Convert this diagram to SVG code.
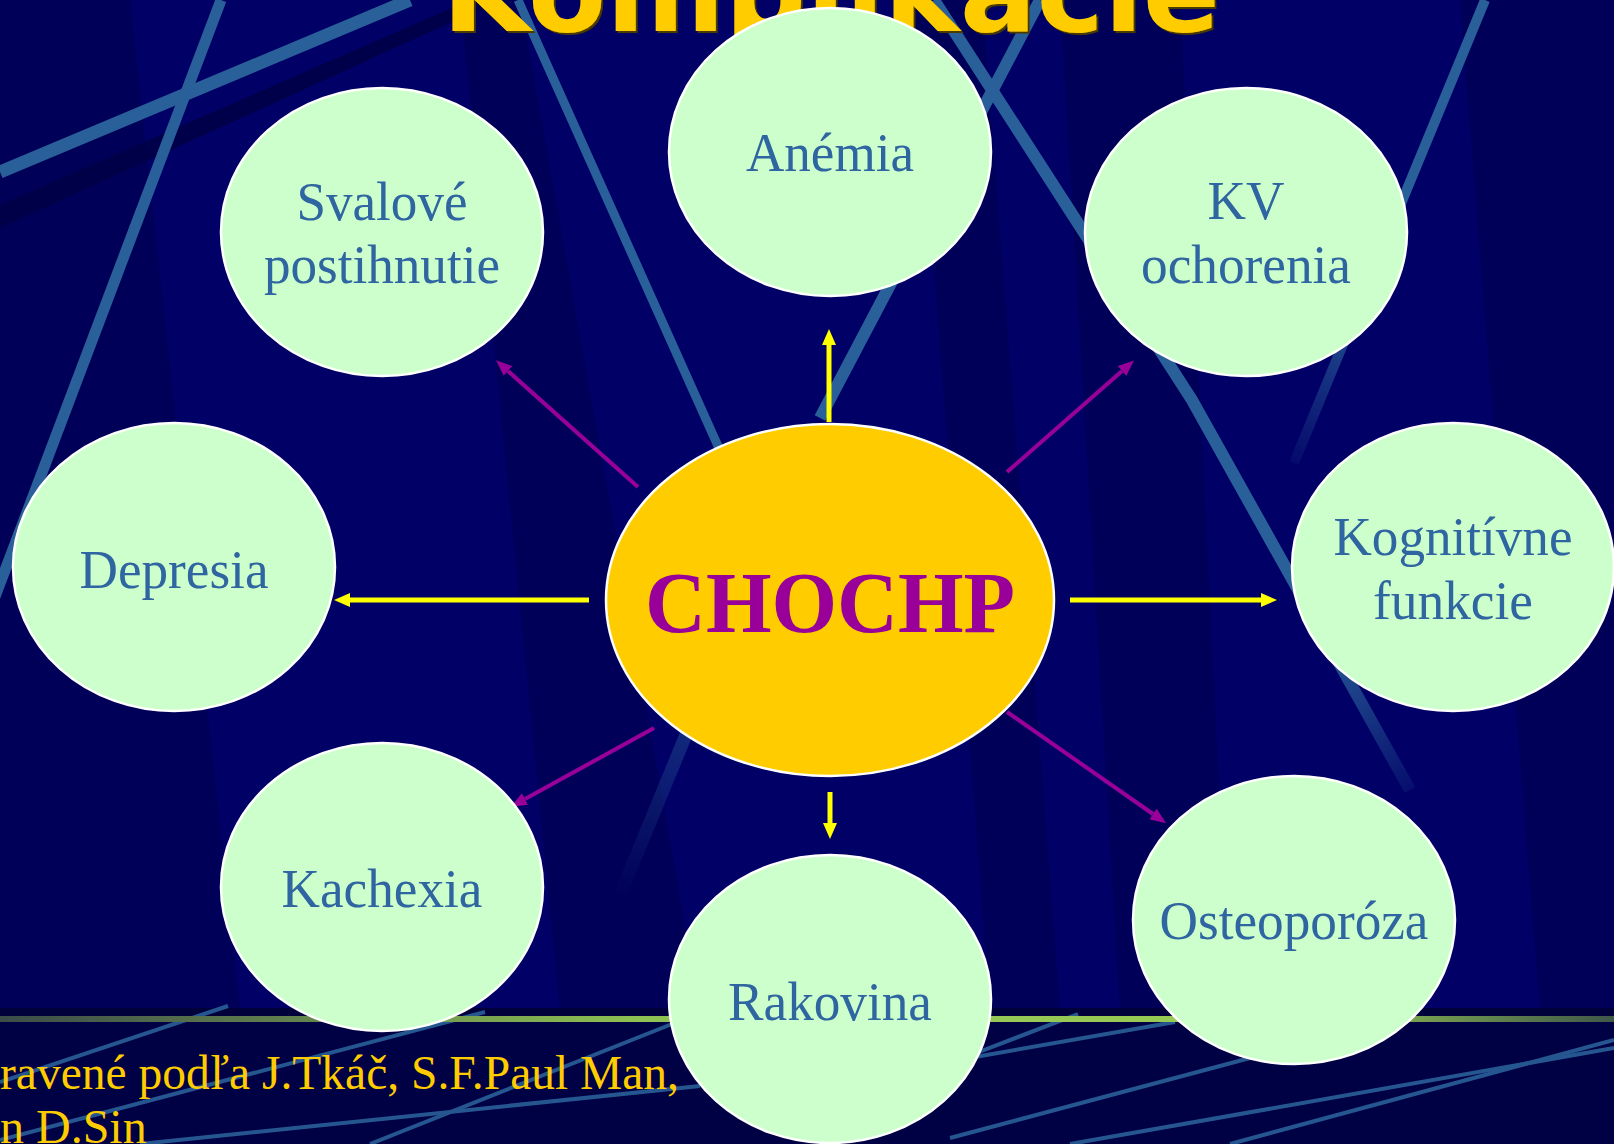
<svg xmlns="http://www.w3.org/2000/svg" width="1614" height="1144" viewBox="0 0 1614 1144">
<style>
.nd{fill:#CCFFCC;stroke:#FFFFFF;stroke-width:2.5}
.lbl{font-family:"Liberation Serif","Times New Roman",serif;font-size:55px;fill:#2F65A0;text-anchor:middle}
.ctr{fill:#FFCC00;stroke:#FFFFFF;stroke-width:2.5}
.ctxt{font-family:"Liberation Serif","Times New Roman",serif;font-weight:bold;font-size:86px;fill:#990099;text-anchor:middle}
.bl{stroke:#2A6099;fill:none}
.dk{fill:#000050;opacity:0.6}
.cy{stroke:#FFFF00;stroke-width:5;fill:none}
.cp{stroke:#990099;stroke-width:4;fill:none}
.foot{font-family:"Liberation Serif","Times New Roman",serif;font-size:48px;fill:#FFCC00}
.title{font-family:"DejaVu Sans","Liberation Sans",sans-serif;font-weight:bold;font-size:111px;fill:#FFCC00;text-anchor:middle}
</style>
<defs>
<marker id="ay" viewBox="0 0 16 14" refX="0" refY="7" markerWidth="16" markerHeight="14" markerUnits="userSpaceOnUse" orient="auto"><path d="M0,0 L16,7 L0,14 z" fill="#FFFF00"/></marker>
<marker id="ap" viewBox="0 0 16 13" refX="0" refY="6.5" markerWidth="16" markerHeight="13" markerUnits="userSpaceOnUse" orient="auto"><path d="M0,0 L16,6.5 L0,13 z" fill="#990099"/></marker>
<linearGradient id="band" x1="0" y1="0" x2="1" y2="0">
<stop offset="0" stop-color="#3C4C48"/><stop offset="0.4" stop-color="#8FC253"/><stop offset="0.8" stop-color="#99CC55"/><stop offset="1" stop-color="#405848"/>
</linearGradient>
<linearGradient id="fadeL4" gradientUnits="userSpaceOnUse" x1="620" y1="895" x2="690" y2="725">
<stop offset="0" stop-color="#2A6099" stop-opacity="0"/><stop offset="1" stop-color="#2A6099" stop-opacity="0.45"/>
</linearGradient>
<linearGradient id="fadeL7" gradientUnits="userSpaceOnUse" x1="1485" y1="0" x2="1294" y2="463">
<stop offset="0" stop-color="#2A6099"/><stop offset="0.6" stop-color="#2A6099"/><stop offset="1" stop-color="#2A6099" stop-opacity="0.1"/>
</linearGradient>
<linearGradient id="fadeL5" gradientUnits="userSpaceOnUse" x1="934" y1="0" x2="1410" y2="790">
<stop offset="0" stop-color="#2A6099"/><stop offset="0.8" stop-color="#2A6099"/><stop offset="1" stop-color="#2A6099" stop-opacity="0.15"/>
</linearGradient>
<linearGradient id="fadeL2" gradientUnits="userSpaceOnUse" x1="0" y1="172" x2="410" y2="0">
<stop offset="0" stop-color="#1E4A88"/><stop offset="0.5" stop-color="#2A6099"/><stop offset="1" stop-color="#2A6099"/>
</linearGradient>
<filter id="sh" x="-5%" y="-5%" width="110%" height="120%"><feDropShadow dx="2" dy="2" stdDeviation="0" flood-color="#4A3A00"/></filter>
</defs>

<g id="background">
<rect x="0" y="0" width="1614" height="1144" fill="#000066"/>
<polygon class="dk" points="0,0 130,0 240,1010 0,1010"/>
<polygon class="dk" points="460,0 520,0 700,1010 560,1010"/>
<polygon class="dk" points="914,0 982,0 1060,1010 990,1010"/>
<polygon class="dk" points="1060,0 1180,0 1230,1010 1120,1010"/>
<polygon class="dk" points="1460,0 1614,0 1614,1010 1540,1010"/>
<polygon points="0,205 470,0 500,0 0,228" fill="#000044" opacity="0.8"/>
<path class="bl" d="M0,172 L410,0" stroke="url(#fadeL2)" stroke-width="13"/>
<path class="bl" d="M221,0 L-10,610" stroke-width="11"/>
<path class="bl" d="M518,0 L722,455" stroke-width="9"/>
<path d="M620,895 L690,725" stroke="url(#fadeL4)" stroke-width="13" fill="none"/>
<path d="M934,0 L1192,400 L1410,790" stroke="url(#fadeL5)" stroke-width="12" fill="none"/>
<path class="bl" d="M1040,0 L820,418" stroke-width="12"/>
<path d="M1485,0 L1294,463" stroke="url(#fadeL7)" stroke-width="10" fill="none"/>
<rect x="0" y="1008" width="1614" height="136" fill="#000044"/>
<rect x="0" y="1008" width="1614" height="9" fill="#00003A"/>
<g class="bl" stroke-width="4" opacity="0.9">
<path d="M228,1006 L0,1082"/>
<path d="M485,1012 L0,1140"/>
<path d="M672,1024 L370,1144"/>
<path d="M700,1086 L140,1144"/>
<path d="M958,1060 L1078,1014"/>
<path d="M958,1060 L1175,1022"/>
<path d="M950,1138 L1250,1058"/>
<path d="M1070,1144 L1614,1048"/>
<path d="M1230,1144 L1614,1040"/>
</g>
<rect x="0" y="1016" width="1614" height="6" fill="url(#band)"/>
</g>

<g id="title">
<text class="title" x="831" y="31" textLength="778" lengthAdjust="spacingAndGlyphs" filter="url(#sh)">Komplikácie</text>
</g>

<g id="footer">
<text class="foot" x="0" y="1089" textLength="679" lengthAdjust="spacingAndGlyphs">ravené podľa J.Tkáč, S.F.Paul Man,</text>
<text class="foot" x="0" y="1143">n D.Sin</text>
</g>

<g id="connectors">
<path class="cy" d="M829,422 L829,345" marker-end="url(#ay)"/>
<path class="cy" d="M830,792 L830,823" marker-end="url(#ay)"/>
<path class="cy" d="M589,600 L350,600" marker-end="url(#ay)"/>
<path class="cy" d="M1070,600 L1261,600" marker-end="url(#ay)"/>
<path class="cp" d="M638,487 L508,371" marker-end="url(#ap)"/>
<path class="cp" d="M1007,472 L1122,371" marker-end="url(#ap)"/>
<path class="cp" d="M654,728 L525,799" marker-end="url(#ap)"/>
<path class="cp" d="M1007,712 L1153,814" marker-end="url(#ap)"/>
</g>

<g id="node-chochp">
<ellipse class="ctr" cx="830" cy="600" rx="224" ry="176"/>
<text class="ctxt" x="830" y="632" textLength="370" lengthAdjust="spacingAndGlyphs">CHOCHP</text>
</g>
<g id="node-anemia">
<ellipse class="nd" cx="830" cy="152" rx="161" ry="144"/>
<text class="lbl" x="830" y="171" textLength="168" lengthAdjust="spacingAndGlyphs">Anémia</text>
</g>
<g id="node-svalove">
<ellipse class="nd" cx="382" cy="232" rx="161" ry="144"/>
<text class="lbl" x="382" y="220" textLength="171" lengthAdjust="spacingAndGlyphs">Svalové</text>
<text class="lbl" x="382" y="283" textLength="236" lengthAdjust="spacingAndGlyphs">postihnutie</text>
</g>
<g id="node-kv">
<ellipse class="nd" cx="1246" cy="232" rx="161" ry="144"/>
<text class="lbl" x="1246" y="219" textLength="77" lengthAdjust="spacingAndGlyphs">KV</text>
<text class="lbl" x="1246" y="283" textLength="210" lengthAdjust="spacingAndGlyphs">ochorenia</text>
</g>
<g id="node-depresia">
<ellipse class="nd" cx="174" cy="567" rx="161" ry="144"/>
<text class="lbl" x="174" y="588" textLength="189" lengthAdjust="spacingAndGlyphs">Depresia</text>
</g>
<g id="node-kognitivne">
<ellipse class="nd" cx="1453" cy="567" rx="161" ry="144"/>
<text class="lbl" x="1453" y="555" textLength="239" lengthAdjust="spacingAndGlyphs">Kognitívne</text>
<text class="lbl" x="1453" y="619" textLength="160" lengthAdjust="spacingAndGlyphs">funkcie</text>
</g>
<g id="node-kachexia">
<ellipse class="nd" cx="382" cy="887" rx="161" ry="144"/>
<text class="lbl" x="382" y="907" textLength="201" lengthAdjust="spacingAndGlyphs">Kachexia</text>
</g>
<g id="node-rakovina">
<ellipse class="nd" cx="830" cy="999" rx="161" ry="144"/>
<text class="lbl" x="830" y="1020" textLength="204" lengthAdjust="spacingAndGlyphs">Rakovina</text>
</g>
<g id="node-osteoporoza">
<ellipse class="nd" cx="1294" cy="920" rx="161" ry="144"/>
<text class="lbl" x="1294" y="939" textLength="269" lengthAdjust="spacingAndGlyphs">Osteoporóza</text>
</g>
</svg>
